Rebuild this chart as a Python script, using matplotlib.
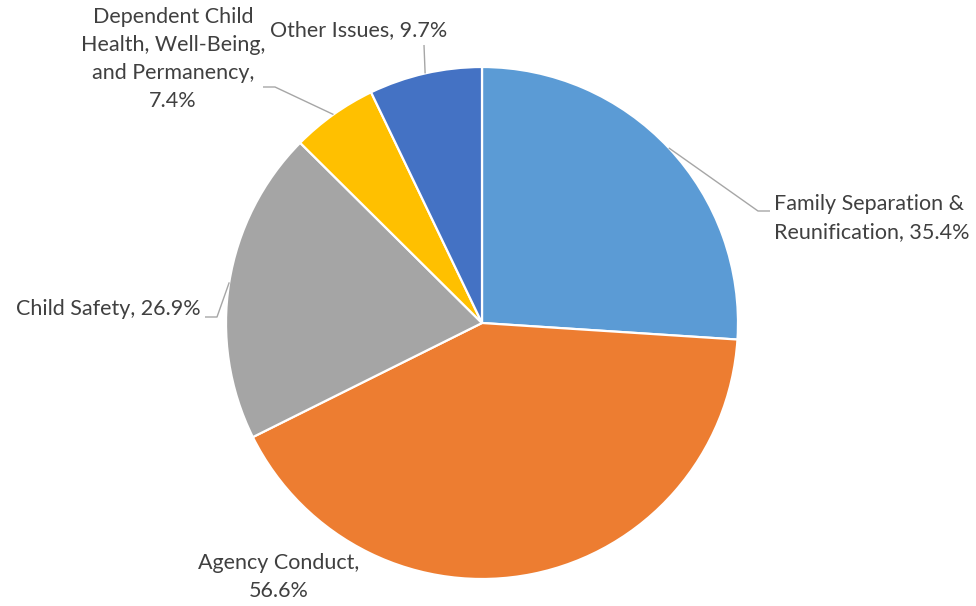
import numpy as np
import matplotlib.pyplot as plt

# --- Data ---
categories = ["Family Separation &\nReunification", "Agency Conduct",
              "Child Safety", "Dependent Child\nHealth, Well-Being,\nand Permanency",
              "Other Issues"]
percents = [35.4, 56.6, 26.9, 7.4, 9.7]
colors = ["#5B9BD5", "#ED7D31", "#A5A5A5", "#FFC000", "#4472C4"]

W, H = 976, 606
cx, cy, R = 482, H - 323, 256

fig = plt.figure(figsize=(W / 100, H / 100), dpi=100)
ax = fig.add_axes([0, 0, 1, 1])

wedges, _ = ax.pie(percents, colors=colors, startangle=90, counterclock=False,
                   center=(cx, cy), radius=R,
                   wedgeprops=dict(edgecolor="white", linewidth=1.6))

# pie() resets the limits, so set them afterwards
ax.set_xlim(0, W)
ax.set_ylim(0, H)
ax.set_aspect("equal")
ax.axis("off")

labels = [f"{c}, {p}%" for c, p in zip(categories, percents)]
labels[1] = "Agency Conduct,\n56.6%"
labels[3] = "Dependent Child\nHealth, Well-Being,\nand Permanency,\n7.4%"

# label placement (pixel coords, y from top): text x, text y, ha, elbow points
layout = [
    (774, 218, "left", [(758, 211), (770, 211)]),
    (279, 577, "center", None),
    (201, 309, "right", [(217, 317), (205, 317)]),
    (173, 59, "center", [(275, 87), (263, 87)]),
    (359, 30, "center", [(424, 45)]),
]

text_kw = dict(fontsize=15.5, color="#404040", family=["Lato", "DejaVu Sans"],
               va="center", linespacing=1.5)

for w, lab, (tx, ty, ha, elbow) in zip(wedges, labels, layout):
    mid = np.deg2rad((w.theta1 + w.theta2) / 2)
    ax.text(tx, H - ty, lab, ha=ha, multialignment="center" if ha == "center" else "left",
            **text_kw)
    if elbow:
        pts = [(cx + R * np.cos(mid), cy + R * np.sin(mid))]
        pts += [(x, H - y) for x, y in elbow]
        xs, ys = zip(*pts)
        ax.plot(xs, ys, color="#A6A6A6", linewidth=1.0, solid_capstyle="butt")

plt.savefig("out.png", dpi=100)
